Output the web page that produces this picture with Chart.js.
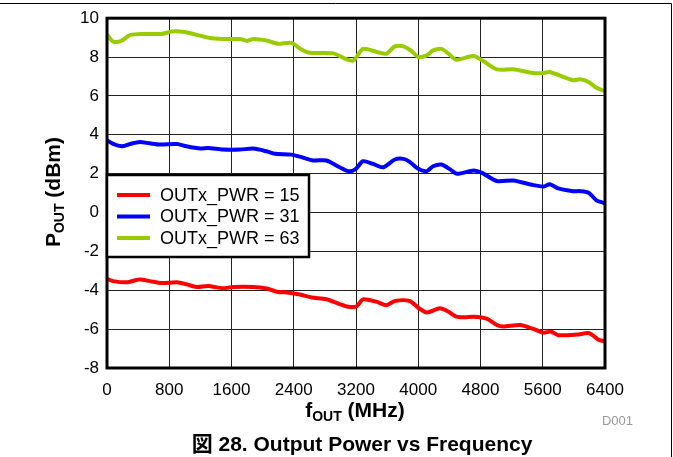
<!DOCTYPE html>
<html>
<head>
<meta charset="utf-8">
<script src="https://cdn.jsdelivr.net/npm/chart.js@4.4.1/dist/chart.umd.min.js"></script>
<style>
  body { margin: 0; background: #fff; }
  #wrap { width: 673px; height: 457px; position: relative; }
</style>
</head>
<body>
<div id="wrap"><canvas id="power-chart" width="673" height="457"></canvas></div>
<script>
// Values (frequency in MHz, power in dBm)
const freq15 = [0, 80, 250, 420, 550, 700, 900, 1020, 1150, 1300, 1490, 1620, 1880, 2050, 2200, 2290, 2480, 2630, 2820, 2990, 3100, 3210, 3290, 3470, 3590, 3700, 3890, 4000, 4110, 4280, 4390, 4490, 4600, 4710, 4880, 5010, 5090, 5310, 5480, 5610, 5710, 5800, 6040, 6200, 6310, 6390, 6400];
const pwr15 = [-3.42, -3.53, -3.59, -3.45, -3.53, -3.63, -3.59, -3.69, -3.83, -3.78, -3.90, -3.83, -3.83, -3.91, -4.09, -4.10, -4.22, -4.37, -4.46, -4.71, -4.85, -4.82, -4.47, -4.60, -4.77, -4.55, -4.55, -4.90, -5.14, -4.93, -5.11, -5.36, -5.39, -5.36, -5.46, -5.79, -5.87, -5.79, -5.99, -6.18, -6.13, -6.31, -6.28, -6.21, -6.53, -6.63, -6.65];

const freq31 = [0, 80, 190, 300, 420, 550, 680, 900, 1020, 1200, 1300, 1490, 1710, 1880, 2050, 2160, 2370, 2500, 2650, 2820, 2990, 3100, 3190, 3290, 3420, 3550, 3700, 3810, 3890, 4000, 4110, 4190, 4300, 4410, 4500, 4710, 4820, 5010, 5220, 5480, 5610, 5690, 5800, 5990, 6080, 6190, 6290, 6380, 6400];
const pwr31 = [3.72, 3.53, 3.41, 3.53, 3.63, 3.56, 3.50, 3.53, 3.41, 3.29, 3.32, 3.24, 3.24, 3.29, 3.15, 3.02, 2.98, 2.85, 2.68, 2.68, 2.33, 2.13, 2.22, 2.64, 2.50, 2.33, 2.73, 2.76, 2.61, 2.25, 2.13, 2.38, 2.47, 2.22, 1.99, 2.16, 2.04, 1.62, 1.65, 1.41, 1.34, 1.45, 1.24, 1.10, 1.10, 1.02, 0.63, 0.50, 0.47];

const freq63 = [0, 80, 190, 300, 470, 700, 830, 940, 1110, 1320, 1490, 1710, 1800, 1880, 2050, 2200, 2370, 2500, 2610, 2910, 3080, 3170, 3290, 3470, 3590, 3700, 3810, 3920, 4000, 4110, 4190, 4300, 4390, 4490, 4710, 4840, 5010, 5220, 5480, 5610, 5690, 5990, 6080, 6190, 6290, 6380, 6400];
const pwr63 = [9.15, 8.80, 8.85, 9.14, 9.19, 9.19, 9.31, 9.31, 9.19, 8.98, 8.93, 8.93, 8.83, 8.93, 8.85, 8.68, 8.73, 8.39, 8.22, 8.19, 7.88, 7.83, 8.42, 8.26, 8.17, 8.55, 8.55, 8.29, 8.00, 8.09, 8.34, 8.42, 8.17, 7.86, 8.05, 7.78, 7.37, 7.37, 7.18, 7.18, 7.23, 6.81, 6.86, 6.72, 6.42, 6.28, 6.25];

const seriesLabels = ['OUTx_PWR = 15', 'OUTx_PWR = 31', 'OUTx_PWR = 63'];
const seriesColors = ['#ff0000', '#0000ff', '#99cc00'];

const FONT = '"Liberation Sans", Arial, Helvetica, sans-serif';

function toPoints(xs, ys) {
    return xs.map((x, i) => ({ x: x, y: ys[i] }));
}

// frame, legend, axis titles, caption
const decorations = {
    id: 'decorations',
    afterDatasetsDraw(chart) {
        const ctx = chart.ctx;
        const a = chart.chartArea;
        ctx.save();

        // thick plot frame
        ctx.strokeStyle = '#000';
        ctx.lineWidth = 3;
        ctx.strokeRect(a.left, a.top, a.right - a.left, a.bottom - a.top);

        // legend box
        const lx = a.left, ly = 175, lw = 202, lh = 82;
        ctx.fillStyle = '#fff';
        ctx.fillRect(lx, ly, lw, lh);
        ctx.lineWidth = 2.5;
        ctx.strokeRect(lx, ly, lw, lh);
        ctx.font = '18px ' + FONT;
        ctx.textBaseline = 'middle';
        ctx.textAlign = 'left';
        seriesLabels.forEach((lab, i) => {
            const y = 195 + i * 21.5;
            ctx.strokeStyle = seriesColors[i];
            ctx.lineWidth = 4;
            ctx.beginPath();
            ctx.moveTo(117, y);
            ctx.lineTo(150, y);
            ctx.stroke();
            ctx.fillStyle = '#000';
            ctx.fillText(lab, 160, y + 1);
        });

        // x axis title: f_OUT (MHz)
        ctx.fillStyle = '#000';
        ctx.textBaseline = 'alphabetic';
        const bigX = 'bold 21px ' + FONT, smallX = 'bold 14px ' + FONT;
        ctx.font = bigX; const w1 = ctx.measureText('f').width, w3 = ctx.measureText(' (MHz)').width;
        ctx.font = smallX; const w2 = ctx.measureText('OUT').width;
        let x0 = 355 - (w1 + w2 + w3) / 2;
        const by = 417;
        ctx.font = bigX; ctx.fillText('f', x0, by);
        ctx.font = smallX; ctx.fillText('OUT', x0 + w1, by + 4);
        ctx.font = bigX; ctx.fillText(' (MHz)', x0 + w1 + w2, by);

        // y axis title: P_OUT (dBm), rotated
        ctx.save();
        ctx.translate(60, 192);
        ctx.rotate(-Math.PI / 2);
        ctx.font = bigX; const p1 = ctx.measureText('P').width, p3 = ctx.measureText(' (dBm)').width;
        ctx.font = smallX; const p2 = ctx.measureText('OUT').width;
        x0 = -(p1 + p2 + p3) / 2;
        ctx.font = bigX; ctx.fillText('P', x0, 0);
        ctx.font = smallX; ctx.fillText('OUT', x0 + p1, 4);
        ctx.font = bigX; ctx.fillText(' (dBm)', x0 + p1 + p2, 0);
        ctx.restore();

        // small id tag
        ctx.fillStyle = '#999';
        ctx.font = '13px ' + FONT;
        ctx.textAlign = 'right';
        ctx.fillText('D001', 633, 425);

        // caption
        ctx.fillStyle = '#000';
        ctx.textAlign = 'center';
        ctx.font = 'bold 21px ' + FONT + ', "Noto Sans CJK JP"';
        ctx.fillText('\u56f3 28. Output Power vs Frequency', 362, 451);

        // page frame lines
        ctx.strokeStyle = '#000';
        ctx.lineWidth = 1;
        ctx.beginPath();
        ctx.moveTo(0, 3.5);
        ctx.lineTo(671.5, 3.5);
        ctx.lineTo(671.5, 457);
        ctx.stroke();

        ctx.restore();
    }
};

const ctx = document.getElementById('power-chart').getContext('2d');

new Chart(ctx, {
    type: 'line',
    data: {
        datasets: [
            { label: seriesLabels[0], data: toPoints(freq15, pwr15), borderColor: seriesColors[0] },
            { label: seriesLabels[1], data: toPoints(freq31, pwr31), borderColor: seriesColors[1] },
            { label: seriesLabels[2], data: toPoints(freq63, pwr63), borderColor: seriesColors[2] }
        ]
    },
    options: {
        responsive: false,
        animation: false,
        devicePixelRatio: 1,
        layout: { padding: { left: 0, top: 16, right: 68, bottom: 0 } },
        elements: {
            line: { borderWidth: 4, tension: 0.25, fill: false, borderCapStyle: 'round', borderJoinStyle: 'round' },
            point: { radius: 0 }
        },
        plugins: {
            legend: { display: false },
            tooltip: { enabled: false }
        },
        scales: {
            x: {
                type: 'linear',
                min: 0,
                max: 6400,
                afterFit(scale) { scale.height = 89; },
                border: { display: false },
                grid: { color: '#222', lineWidth: 1, drawTicks: false },
                ticks: {
                    stepSize: 800,
                    padding: 12,
                    color: '#000',
                    font: { family: FONT, size: 17 },
                    maxRotation: 0,
                    callback: value => String(value)
                }
            },
            y: {
                min: -8,
                max: 10,
                afterFit(scale) { scale.width = 107; },
                border: { display: false },
                grid: { color: '#222', lineWidth: 1, drawTicks: false },
                ticks: {
                    stepSize: 2,
                    padding: 8,
                    color: '#000',
                    font: { family: FONT, size: 17 },
                    callback: value => String(value)
                }
            }
        }
    },
    plugins: [decorations]
});
</script>
</body>
</html>
